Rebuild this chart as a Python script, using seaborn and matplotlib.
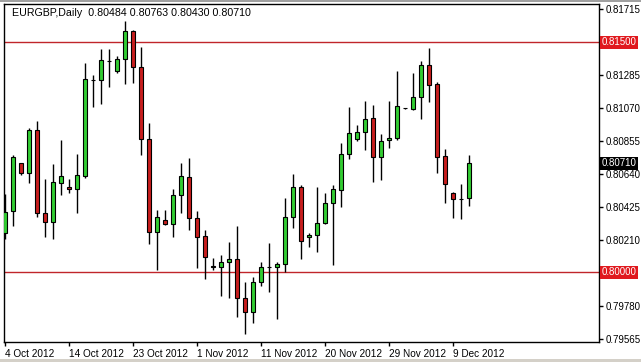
import matplotlib
matplotlib.use("Agg")
import matplotlib.pyplot as plt
import matplotlib.transforms as mtransforms
import seaborn as sns
import pandas as pd

# ---- data (EURGBP daily candles) ----
opens = [0.80254, 0.80402, 0.80711, 0.80646, 0.80928, 0.80385, 0.80330, 0.80584, 0.80558, 0.80541,
         0.80630, 0.81254, 0.81252, 0.81380, 0.81311, 0.81389, 0.81574, 0.81339, 0.80869, 0.80261,
         0.80341, 0.80313, 0.80504, 0.80624, 0.80352, 0.80237, 0.80039, 0.80037, 0.80065, 0.80087,
         0.79834, 0.79743, 0.79935, 0.80033, 0.80033, 0.80052, 0.80359, 0.80558, 0.80228, 0.80243,
         0.80320, 0.80450, 0.80537, 0.80770, 0.80871, 0.80913, 0.81004, 0.80750, 0.80863, 0.80874,
         0.81070, 0.81067, 0.81141, 0.81350, 0.81226, 0.80759, 0.80515, 0.80478, 0.80484]
highs = [0.80511, 0.80765, 0.80713, 0.80943, 0.80989, 0.80609, 0.80706, 0.80863, 0.80607, 0.80772,
         0.81367, 0.81285, 0.81456, 0.81454, 0.81411, 0.81639, 0.81580, 0.81471, 0.80972, 0.80406,
         0.80406, 0.80541, 0.80711, 0.80744, 0.80400, 0.80276, 0.80091, 0.80113, 0.80200, 0.80304,
         0.79939, 0.79971, 0.80069, 0.80193, 0.80069, 0.80483, 0.80641, 0.80569, 0.80256, 0.80554,
         0.80515, 0.80569, 0.80841, 0.81080, 0.80961, 0.81117, 0.81091, 0.80902, 0.81117, 0.81315,
         0.81074, 0.81302, 0.81378, 0.81461, 0.81243, 0.80802, 0.80521, 0.80576, 0.80763]
lows = [0.80217, 0.80304, 0.80635, 0.80582, 0.80359, 0.80228, 0.80219, 0.80504, 0.80519, 0.80389,
        0.80613, 0.81076, 0.81098, 0.81207, 0.81298, 0.81226, 0.81237, 0.80763, 0.80183, 0.80015,
        0.80309, 0.80228, 0.80385, 0.80276, 0.80026, 0.79956, 0.80015, 0.79847, 0.79830, 0.79710,
        0.79598, 0.79667, 0.79911, 0.79874, 0.79694, 0.80004, 0.80291, 0.80087, 0.80163, 0.80134,
        0.80313, 0.80048, 0.80424, 0.80737, 0.80858, 0.80798, 0.80591, 0.80602, 0.80809, 0.80863,
        0.81063, 0.81059, 0.80998, 0.81111, 0.80650, 0.80450, 0.80356, 0.80346, 0.80430]
closes = [0.80395, 0.80752, 0.80646, 0.80928, 0.80385, 0.80330, 0.80591, 0.80628, 0.80541, 0.80635,
          0.81259, 0.81254, 0.81383, 0.81380, 0.81391, 0.81572, 0.81337, 0.80868, 0.80265, 0.80359,
          0.80313, 0.80504, 0.80628, 0.80352, 0.80232, 0.80098, 0.80035, 0.80065, 0.80085, 0.79830,
          0.79743, 0.79935, 0.80033, 0.80033, 0.80052, 0.80359, 0.80554, 0.80206, 0.80243, 0.80320,
          0.80450, 0.80541, 0.80772, 0.80907, 0.80913, 0.80999, 0.80750, 0.80858, 0.80876, 0.81085,
          0.81070, 0.81141, 0.81350, 0.81220, 0.80750, 0.80574, 0.80478, 0.80478, 0.80710]

date_labels = ["4 Oct 2012", "14 Oct 2012", "23 Oct 2012", "1 Nov 2012",
               "11 Nov 2012", "20 Nov 2012", "29 Nov 2012", "9 Dec 2012"]
date_label_bars = [0, 8, 16, 24, 32, 40, 48, 56]

price_ticks = [0.81715, 0.81500, 0.81285, 0.81070, 0.80855, 0.80640,
               0.80425, 0.80210, 0.79995, 0.79780, 0.79565]
price_tick_labels = ["0.81715", "", "0.81285", "0.81070", "0.80855", "0.80640",
                     "0.80425", "0.80210", "", "0.79780", "0.79565"]

level_lines = [0.81500, 0.80000]
level_labels = ["0.81500", "0.80000"]
last_price = 0.80710
title = "EURGBP,Daily  0.80484 0.80763 0.80430 0.80710"

df = pd.DataFrame({"open": opens, "high": highs, "low": lows, "close": closes})
df["bar"] = range(len(df))

# ---- styling ----
sns.set_theme(style="white")
plt.rcParams["font.family"] = ["Liberation Sans", "DejaVu Sans"]

GREEN = "#32CD32"
RED = "#C81E1E"
LINE_RED = "#C0252A"

fig = plt.figure(figsize=(6.41, 3.62), dpi=100)
fig.patch.set_facecolor("white")
ax = fig.add_axes([4 / 641, 20 / 362, 595 / 641, 338 / 362])
ax.set_facecolor("white")

# level lines
for lv in level_lines:
    ax.axhline(lv, color=LINE_RED, lw=1.0, zorder=1)

# wicks
ax.vlines(df["bar"], df["low"], df["high"], color="black", lw=1.0, zorder=2)

# bodies
colors = [GREEN if c > o else (RED if c < o else "black") for o, c in zip(df["open"], df["close"])]
ax.bar(df["bar"], df["close"] - df["open"], bottom=df["open"], width=0.6,
       color=colors, edgecolor="black", linewidth=0.8, zorder=3)

ax.set_xlim(-0.125, 74.25)
ax.set_ylim(0.795455, 0.817499)

for s in ax.spines.values():
    s.set_color("black")
    s.set_linewidth(1.0)
    s.set_visible(True)

# y axis on the right
ax.yaxis.tick_right()
ax.set_yticks(price_ticks)
ax.set_yticklabels(price_tick_labels)
ax.tick_params(axis="y", which="both", right=True, left=False, labelright=True, labelleft=False,
               direction="out", length=3, width=1, color="black", labelsize=7, pad=2,
               labelcolor="black")

# x axis
ax.set_xticks(date_label_bars)
ax.set_xticklabels(date_labels)
for lbl in ax.get_xticklabels():
    lbl.set_horizontalalignment("left")
ax.tick_params(axis="x", which="both", bottom=True, direction="out", length=3, width=1,
               color="black", labelsize=7.2, pad=2, labelcolor="black")
ax.set_xlabel("")
ax.set_ylabel("")
ax.grid(False)

# price labels at the right
trans = mtransforms.blended_transform_factory(ax.transAxes, ax.transData)
for lv, lab in zip(level_lines, level_labels):
    ax.text(1.004, lv, lab, transform=trans, ha="left", va="center", fontsize=7, color="white",
            clip_on=False, zorder=10,
            bbox=dict(boxstyle="square,pad=0.18", fc="#E0191E", ec="none"))
ax.text(1.004, last_price, f"{last_price:.5f}", transform=trans, ha="left", va="center",
        fontsize=7, color="white", clip_on=False, zorder=10,
        bbox=dict(boxstyle="square,pad=0.18", fc="black", ec="none"))

# header text
ax.text(8 / 595, 1 - 9 / 338, title, transform=ax.transAxes, ha="left", va="center",
        fontsize=7.7, color="black")

# window border strips
fig.patches.append(plt.Rectangle((0, 1 - 2 / 362), 1, 2 / 362, transform=fig.transFigure,
                                 fc="#a0a0a0", ec="none", zorder=0))
fig.patches.append(plt.Rectangle((0, 0), 1, 3 / 362, transform=fig.transFigure,
                                 fc="#d4d0c8", ec="none", zorder=0))

fig.savefig("out.png", dpi=100)
